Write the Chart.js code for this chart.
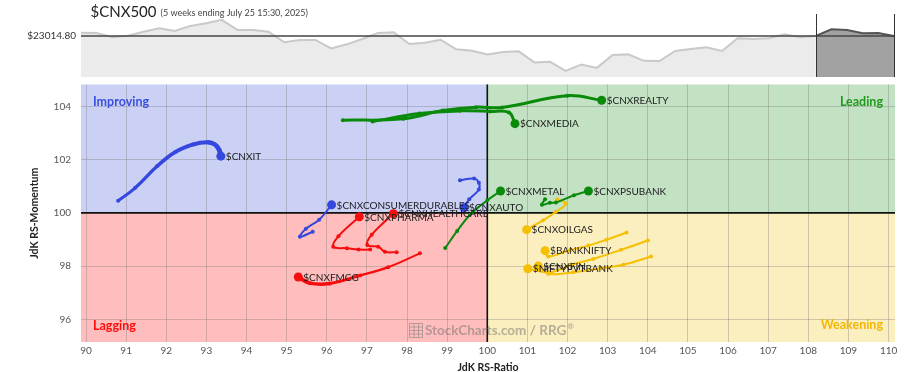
<!DOCTYPE html>
<html><head><meta charset="utf-8">
<script src="https://cdn.jsdelivr.net/npm/chart.js@4.4.1/dist/chart.umd.min.js"></script>
<style>
html,body{margin:0;padding:0;background:#fff;}
#wrap{position:relative;width:904px;height:372px;overflow:hidden;background:#fff;}
#mini{position:absolute;left:0;top:0;}
#rrg{position:absolute;left:0;top:80px;}
</style></head><body>
<div id="wrap"><canvas id="mini" width="904" height="80"></canvas><canvas id="rrg" width="904" height="292"></canvas></div>
<script>
// ---------- benchmark strip ----------
const benchmarkName = '$CNX500';
const benchmarkSubtitle = '(5 weeks ending July 25 15:30, 2025)';
const benchmarkLast = 23014.80;
const benchmarkLastLabel = '$23014.80';
const benchmarkCloses = [23054,23051,22999,23018,23066,23107,23075,23135,23167,23207,
  23087,23087,23066,22939,22967,22967,22867,22915,22979,23051,
  23059,22919,22934,22970,22855,22838,22795,22823,22831,22699,
  22706,22598,22675,22634,22787,22795,22718,22715,22835,22859,
  22879,22835,22987,22979,22987,23035,22999,23015,23095,23087,
  23047,23051,23015];
const tailStartIndex = 47;

// ---------- RRG ----------
const rrgCenter = 100;
const ratioTicks = [90,91,92,93,94,95,96,97,98,99,100,101,102,103,104,105,106,107,108,109,110];
const momentumTicks = [96,98,100,102,104];
const quadrantNames = ['Improving','Leading','Lagging','Weakening'];

const itRatio = [90.80, 91.22, 91.77, 92.22, 92.67, 93.02, 93.21, 93.31, 93.36];
const itMom   = [100.45,100.93,101.75,102.28,102.57,102.65,102.57,102.39,102.13];
const realtyRatio = [96.40, 97.91, 98.89, 99.72, 100.37, 101.99, 102.85];
const realtyMom   = [103.48,103.53,103.84,103.97,103.96,104.40,104.23];
const mediaRatio = [97.14, 98.31, 99.32, 100.07, 100.54, 100.69];
const mediaMom   = [103.43,103.73,103.83,103.81,103.77,103.35];
const metalRatio = [98.95, 99.25, 99.57, 100.00, 100.33];
const metalMom   = [98.68, 99.32, 99.93, 100.47, 100.82];
const psuRatio = [101.44,101.36,101.56,101.71,102.16,102.52];
const psuMom   = [100.51,100.30,100.38,100.39,100.66,100.82];
const autoRatio = [99.32, 99.67, 99.79, 99.79, 99.55, 99.42];
const autoMom   = [101.22,101.29,101.13,100.88,100.51,100.20];
const cdRatio = [95.65, 95.33, 95.48, 95.81, 96.12];
const cdMom   = [99.29, 99.10, 99.40, 99.74, 100.30];
const pharmaRatio = [97.08, 96.79, 96.50, 96.16, 96.29, 96.81];
const pharmaMom   = [98.62, 98.62, 98.67, 98.73, 99.12, 99.85];
const healthRatio = [97.74, 97.45, 97.28, 97.01, 97.12, 97.66];
const healthMom   = [98.52, 98.54, 98.73, 98.79, 99.18, 99.97];
const fmcgRatio = [98.32, 97.53, 96.83, 96.08, 95.58, 95.29];
const fmcgMom   = [98.48, 97.96, 97.65, 97.35, 97.36, 97.59];
const oilRatio = [101.74,101.96,101.71,101.39,100.98];
const oilMom   = [100.50,100.35,100.04, 99.72, 99.37];
const bankRatio = [103.47,102.97,102.52,102.06,101.52,101.44];
const bankMom   = [99.26, 98.99, 98.77, 98.60, 98.36, 98.58];
const pvtRatio = [104.00,103.33,102.64,102.10,101.55,101.01];
const pvtMom   = [98.96, 98.61, 98.27, 98.05, 97.77, 97.90];
const finRatio = [104.08,103.39,102.85,102.14,101.52,101.27];
const finMom   = [98.36, 98.05, 97.92, 97.77, 97.71, 98.00];

const symbols = ['$CNXIT','$CNXREALTY','$CNXMEDIA','$CNXMETAL','$CNXPSUBANK','$CNXAUTO',
  '$CNXCONSUMERDURABLES','$CNXPHARMA','$CNXHEALTHCARE','$CNXFMCG','$CNXOILGAS','$BANKNIFTY','$NIFTYPVTBANK','$CNXFIN'];
const ratios = [itRatio,realtyRatio,mediaRatio,metalRatio,psuRatio,autoRatio,cdRatio,pharmaRatio,healthRatio,fmcgRatio,oilRatio,bankRatio,pvtRatio,finRatio];
const momenta = [itMom,realtyMom,mediaMom,metalMom,psuMom,autoMom,cdMom,pharmaMom,healthMom,fmcgMom,oilMom,bankMom,pvtMom,finMom];

const BLUE='#3448e0', GREEN='#0a8a0a', RED='#f70d0d', GOLD='#f5c000';
const colors = [BLUE,GREEN,GREEN,GREEN,GREEN,BLUE,BLUE,RED,RED,RED,GOLD,GOLD,GOLD,GOLD];
const widthsStart = [3,3,3,2,2,2,2,2,2,2,2,2,2,2];
const widthsEnd   = [5,3,3,2,2,2,2,2,2,4,2,2,2,2];

Chart.defaults.font.family = 'Lato, "Open Sans", sans-serif';

// ---------- mini benchmark chart ----------
const miniPlugin = {
  id:'miniDeco',
  afterDatasetsDraw(chart){
    const {ctx, chartArea:a, scales:{x,y}} = chart;
    ctx.save();
    const yl = y.getPixelForValue(benchmarkLast);
    ctx.strokeStyle = '#444'; ctx.lineWidth = 1.5;
    ctx.beginPath(); ctx.moveTo(a.left, yl); ctx.lineTo(a.right+1, yl); ctx.stroke();
    ctx.strokeStyle = '#333'; ctx.lineWidth = 1;
    [tailStartIndex, benchmarkCloses.length-1].forEach(i=>{
      const px = Math.round(x.getPixelForValue(i))+0.5;
      ctx.beginPath(); ctx.moveTo(px, a.top); ctx.lineTo(px, a.bottom); ctx.stroke();
    });
    ctx.fillStyle = '#222'; ctx.textBaseline = 'middle'; ctx.textAlign = 'left';
    ctx.font = '15px Lato';
    ctx.fillText(benchmarkName, 90.5, 12);
    const w = ctx.measureText(benchmarkName).width;
    ctx.font = '9px Lato'; ctx.fillStyle = '#444';
    ctx.fillText(benchmarkSubtitle, 90.5 + w + 4, 13);
    ctx.font = '10px Lato'; ctx.fillStyle = '#333'; ctx.textAlign = 'right';
    ctx.fillText(benchmarkLastLabel, 76, 35.5);
    ctx.restore();
  }
};
new Chart(document.getElementById('mini'), {
  type:'line',
  data:{ datasets:[
    { data: benchmarkCloses.slice(0, tailStartIndex+1).map((v,i)=>({x:i,y:v})),
      borderColor:'#c9c9c9', backgroundColor:'#ebebeb', borderWidth:2, fill:'start', pointRadius:0, tension:0 },
    { data: benchmarkCloses.slice(tailStartIndex).map((v,i)=>({x:i+tailStartIndex,y:v})),
      borderColor:'#555', backgroundColor:'#a2a2a2', borderWidth:2, fill:'start', pointRadius:0, tension:0 }
  ]},
  options:{
    responsive:false, animation:false, devicePixelRatio:1,
    layout:{padding:{left:81, right:10, top:14, bottom:3}},
    scales:{ x:{type:'linear', min:0, max:benchmarkCloses.length-1, display:false},
             y:{min:22525, max:23277, display:false} },
    plugins:{legend:{display:false}, tooltip:{enabled:false}}
  },
  plugins:[miniPlugin]
});

// ---------- RRG chart ----------
const rrgPlugin = {
  id:'rrgDeco',
  beforeDraw(chart){
    const {ctx, chartArea:a, scales:{x,y}} = chart;
    const cx = x.getPixelForValue(rrgCenter), cy = y.getPixelForValue(rrgCenter);
    ctx.save();
    ctx.fillStyle = '#cbd0f5'; ctx.fillRect(a.left, a.top, cx-a.left, cy-a.top);
    ctx.fillStyle = '#c3e1c3'; ctx.fillRect(cx, a.top, a.right-cx, cy-a.top);
    ctx.fillStyle = '#ffbdbd'; ctx.fillRect(a.left, cy, cx-a.left, a.bottom-cy);
    ctx.fillStyle = '#fbeebf'; ctx.fillRect(cx, cy, a.right-cx, a.bottom-cy);
    ctx.restore();
  },
  beforeDatasetsDraw(chart){
    const {ctx, chartArea:a, scales:{x,y}} = chart;
    const cx = x.getPixelForValue(rrgCenter), cy = y.getPixelForValue(rrgCenter);
    ctx.save();
    ctx.strokeStyle = '#111'; ctx.lineWidth = 1.6;
    ctx.beginPath(); ctx.moveTo(a.left, cy); ctx.lineTo(a.right, cy); ctx.stroke();
    ctx.beginPath(); ctx.moveTo(cx, a.top); ctx.lineTo(cx, a.bottom); ctx.stroke();
    ctx.font = 'bold 12.5px Lato'; ctx.textBaseline = 'middle';
    ctx.textAlign = 'left';
    ctx.fillStyle = '#3a4fe0'; ctx.fillText(quadrantNames[0], a.left+12, a.top+17);
    ctx.fillStyle = '#ff0d0d'; ctx.fillText(quadrantNames[2], a.left+12, a.bottom-16);
    ctx.textAlign = 'right';
    ctx.fillStyle = '#1f9a1f'; ctx.fillText(quadrantNames[1], a.right-12, a.top+17);
    ctx.fillStyle = '#f2b705'; ctx.fillText(quadrantNames[3], a.right-12, a.bottom-17);
    // watermark
    ctx.globalAlpha = 0.5;
    const wy = a.bottom - 11;
    ctx.strokeStyle = '#777'; ctx.lineWidth = 1;
    ctx.strokeRect(409.5, wy-7.5, 13, 14);
    ctx.beginPath();
    for (let k=1;k<4;k++){ ctx.moveTo(409.5, wy-7.5+k*3.5); ctx.lineTo(422.5, wy-7.5+k*3.5); }
    ctx.moveTo(414, wy-7.5); ctx.lineTo(414, wy+6.5); ctx.moveTo(418.5, wy-7.5); ctx.lineTo(418.5, wy+6.5);
    ctx.stroke();
    ctx.fillStyle = '#6f6f6f'; ctx.textAlign='left'; ctx.font = 'bold 13.5px Lato';
    ctx.fillText('StockCharts.com / RRG', 425, wy);
    const ww = ctx.measureText('StockCharts.com / RRG').width;
    ctx.font = 'bold 8px Lato'; ctx.fillText('®', 425+ww+1, wy-5);
    ctx.restore();
  },
  afterDatasetsDraw(chart){
    const {ctx} = chart;
    ctx.save();
    ctx.font = '10px Lato'; ctx.fillStyle = '#1c1c1c';
    ctx.textAlign = 'left'; ctx.textBaseline = 'middle';
    chart.data.datasets.forEach((ds,i)=>{
      const pts = chart.getDatasetMeta(i).data;
      const p = pts[pts.length-1];
      ctx.fillText(ds.label, p.x + 5, p.y + 0.5);
    });
    ctx.restore();
  }
};

const rrgDatasets = symbols.map((s,i)=>{
  const n = ratios[i].length;
  return {
    label: s,
    data: ratios[i].map((v,k)=>({x:v, y:momenta[i][k]})),
    showLine:true,
    borderColor: colors[i], backgroundColor: colors[i],
    pointBackgroundColor: colors[i], pointBorderColor: colors[i],
    pointRadius: ratios[i].map((v,k)=> k===n-1 ? 4.5 : 2),
    pointBorderWidth: 0,
    tension: 0.4,
    borderWidth: widthsStart[i],
    segment:{ borderWidth: ctx => widthsStart[i] + (widthsEnd[i]-widthsStart[i]) * (ctx.p0DataIndex/Math.max(1,n-2)) }
  };
});

new Chart(document.getElementById('rrg'), {
  type:'scatter',
  data:{ datasets: rrgDatasets },
  options:{
    responsive:false, animation:false, devicePixelRatio:1,
    layout:{padding:{left:0, right:9, top:3, bottom:0}},
    scales:{
      x:{ type:'linear', min:89.875, max:110.16,
          afterFit: s => { s.height = 30; s.paddingLeft = 0; s.paddingRight = 0; },
          afterBuildTicks: s => { s.ticks = ratioTicks.map(v=>({value:v})); },
          grid:{ color:'rgba(120,120,120,0.35)', lineWidth:1, drawTicks:false },
          border:{ display:false },
          ticks:{ padding:3, color:'#555', font:{size:10}, callback: v => String(v) },
          title:{ display:true, text:'JdK RS-Ratio', color:'#222', font:{size:10.5, weight:'bold', lineHeight:0.85}, padding:{bottom:0, top:0} } },
      y:{ type:'linear', min:95.15, max:104.82,
          afterFit: s => { s.width = 81; s.paddingTop = 0; s.paddingBottom = 0; },
          afterBuildTicks: s => { s.ticks = momentumTicks.map(v=>({value:v})); },
          grid:{ color:'rgba(120,120,120,0.35)', lineWidth:1, drawTicks:false },
          border:{ display:false },
          ticks:{ padding:10, color:'#555', font:{size:10}, callback: v => String(v) },
          title:{ display:true, text:'JdK RS-Momentum', color:'#222', font:{size:10.5, weight:'bold', lineHeight:1.2}, padding:{top:28, bottom:0} } }
    },
    plugins:{legend:{display:false}, tooltip:{enabled:false}}
  },
  plugins:[rrgPlugin]
});
</script>
</body></html>
